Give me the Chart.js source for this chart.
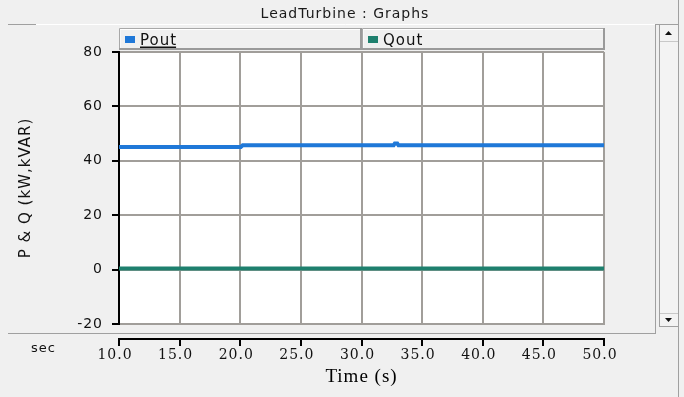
<!DOCTYPE html>
<html>
<head>
<meta charset="utf-8">
<title>LeadTurbine : Graphs</title>
<script src="https://cdn.jsdelivr.net/npm/chart.js@4/dist/chart.umd.min.js"></script>
<style>
  html, body { margin: 0; padding: 0; background: #f0f0f0; overflow: hidden; }
  canvas { display: block; }
</style>
</head>
<body>
<canvas id="graph" width="684" height="397"></canvas>
<script>
// Simulation trace of the lead turbine: active and reactive power vs time
const poutTime = [10.0, 20.05, 20.2, 32.65, 32.75, 32.95, 33.05, 50.0];
const poutValue = [45.1, 45.1, 45.7, 45.7, 46.4, 46.4, 45.7, 45.7];
const qoutTime = [10.0, 50.0];
const qoutValue = [0.4, 0.4];

const seriesNames = ['Pout', 'Qout'];
const seriesColors = ['#1f78d8', '#1e806e'];

const windowTitle = 'LeadTurbine : Graphs';
const yTitle = 'P & Q (kW,kVAR)';
const xTitle = 'Time (s)';
const xUnit = 'sec';
const xMin = 10, xMax = 50, xStep = 5;
const yMin = -20, yMax = 80, yStep = 20;

const toPoints = (xs, ys) => xs.map((x, i) => ({ x: x, y: ys[i] }));

const GRID = '#a19e9a';
const TEXT = '#111111';
const UI_FONT = '"DejaVu Sans", Verdana, sans-serif';

// Window chrome: title bar, legend buttons, scrollbar and the detached time axis
const chromePlugin = {
  id: 'chrome',
  beforeDraw(chart) {
    const ctx = chart.ctx;
    const a = chart.chartArea;
    ctx.save();
    ctx.fillStyle = '#f0f0f0';
    ctx.fillRect(0, 0, chart.width, chart.height);

    // title bar
    ctx.fillStyle = '#1a1a1a';
    ctx.font = '14px ' + UI_FONT;
    ctx.letterSpacing = '1px';
    ctx.textAlign = 'center';
    ctx.textBaseline = 'middle';
    ctx.fillText(windowTitle, 345, 14);

    // panel edges
    ctx.lineWidth = 1;
    ctx.strokeStyle = '#a0a0a0';
    ctx.beginPath(); ctx.moveTo(8, 24.5); ctx.lineTo(36, 24.5); ctx.stroke();
    ctx.strokeStyle = '#ffffff';
    ctx.beginPath(); ctx.moveTo(36, 24.5); ctx.lineTo(655, 24.5); ctx.stroke();
    ctx.strokeStyle = '#a0a0a0';
    ctx.beginPath(); ctx.moveTo(655.5, 24); ctx.lineTo(655.5, 334); ctx.stroke();
    ctx.beginPath(); ctx.moveTo(8, 333.5); ctx.lineTo(656, 333.5); ctx.stroke();
    ctx.beginPath(); ctx.moveTo(678.5, 0); ctx.lineTo(678.5, 397); ctx.stroke();
    ctx.beginPath(); ctx.moveTo(655, 24.5); ctx.lineTo(678, 24.5); ctx.stroke();

    // scrollbar
    ctx.fillStyle = '#f3f3f3';
    ctx.fillRect(659, 25, 19, 301);
    ctx.strokeStyle = '#a0a0a0';
    ctx.beginPath(); ctx.moveTo(659.5, 25); ctx.lineTo(659.5, 327); ctx.stroke();
    ctx.strokeStyle = '#c8c8c8';
    ctx.beginPath(); ctx.moveTo(660, 41.5); ctx.lineTo(678, 41.5); ctx.stroke();
    ctx.beginPath(); ctx.moveTo(660, 313.5); ctx.lineTo(678, 313.5); ctx.stroke();
    ctx.strokeStyle = '#a0a0a0';
    ctx.beginPath(); ctx.moveTo(659, 326.5); ctx.lineTo(679, 326.5); ctx.stroke();
    ctx.fillStyle = '#111';
    ctx.beginPath(); ctx.moveTo(665, 35); ctx.lineTo(672, 35); ctx.lineTo(668.5, 31); ctx.closePath(); ctx.fill();
    ctx.beginPath(); ctx.moveTo(665, 318); ctx.lineTo(672, 318); ctx.lineTo(668.5, 322); ctx.closePath(); ctx.fill();

    // legend buttons, one per dataset
    const datasets = chart.data.datasets;
    const btnW = (a.right - a.left) / datasets.length;
    datasets.forEach((ds, i) => {
      const bx = Math.round(a.left + i * btnW);
      const bw = Math.round(btnW);
      const by = 28, bh = 22;
      ctx.fillStyle = '#f0f0f0';
      ctx.fillRect(bx, by, bw, bh);
      ctx.strokeStyle = '#ffffff';
      ctx.beginPath(); ctx.moveTo(bx + 1, by + bh - 1); ctx.lineTo(bx + 1, by + 1.5); ctx.lineTo(bx + bw - 1, by + 1.5); ctx.stroke();
      ctx.strokeStyle = '#a8a8a8';
      ctx.beginPath(); ctx.moveTo(bx + 0.5, by + bh); ctx.lineTo(bx + 0.5, by + 0.5); ctx.lineTo(bx + bw, by + 0.5); ctx.stroke();
      ctx.strokeStyle = '#9a9a9a';
      ctx.lineWidth = 2;
      ctx.beginPath(); ctx.moveTo(bx, by + bh - 1); ctx.lineTo(bx + bw - 1, by + bh - 1); ctx.lineTo(bx + bw - 1, by); ctx.stroke();
      ctx.lineWidth = 1;
      ctx.fillStyle = ds.borderColor;
      ctx.fillRect(bx + 6, 36, 10, 7);
      ctx.fillStyle = TEXT;
      ctx.font = '15px ' + UI_FONT;
      ctx.textAlign = 'left';
      ctx.textBaseline = 'alphabetic';
      ctx.fillText(ds.label, bx + 21, 45);
      if (i === 0) {
        const w = ctx.measureText(ds.label).width;
        ctx.fillRect(bx + 21, 46.5, w - 1, 1.5);
      }
    });

    // plot background
    ctx.fillStyle = '#ffffff';
    ctx.fillRect(a.left, a.top, a.right - a.left, a.bottom - a.top);

    // unit label left of the time axis
    ctx.fillStyle = TEXT;
    ctx.font = '13px ' + UI_FONT;
    ctx.textAlign = 'left';
    ctx.textBaseline = 'alphabetic';
    ctx.fillText(xUnit, 31, 352);
    ctx.restore();

    // wider glyph spacing for all library-drawn text
    ctx.letterSpacing = '1px';
  },
  afterDraw(chart) {
    // detached time axis below the plot, positioned from the x scale
    const ctx = chart.ctx;
    const xs = chart.scales.x;
    const axisY = 339;
    ctx.save();
    ctx.strokeStyle = '#000';
    ctx.lineWidth = 2;
    ctx.beginPath();
    ctx.moveTo(xs.getPixelForValue(xMin) - 1, axisY);
    ctx.lineTo(xs.getPixelForValue(xMax) + 1, axisY);
    ctx.stroke();
    xs.ticks.forEach(t => {
      const px = Math.round(xs.getPixelForValue(t.value));
      ctx.beginPath();
      ctx.moveTo(px, axisY - 1);
      ctx.lineTo(px, axisY + 7);
      ctx.stroke();
    });
    ctx.restore();
    ctx.letterSpacing = '0px';
  }
};

new Chart(document.getElementById('graph'), {
  type: 'line',
  data: {
    datasets: [
      {
        label: seriesNames[0],
        data: toPoints(poutTime, poutValue),
        borderColor: seriesColors[0],
        backgroundColor: seriesColors[0],
        borderWidth: 4,
        pointRadius: 0,
        tension: 0,
        fill: false
      },
      {
        label: seriesNames[1],
        data: toPoints(qoutTime, qoutValue),
        borderColor: seriesColors[1],
        backgroundColor: seriesColors[1],
        borderWidth: 4,
        pointRadius: 0,
        tension: 0,
        fill: false
      }
    ]
  },
  options: {
    responsive: false,
    animation: false,
    devicePixelRatio: 1,
    layout: { padding: { left: 0, top: 52, right: 80, bottom: 0 } },
    plugins: {
      legend: { display: false },
      title: { display: false },
      tooltip: { enabled: false }
    },
    scales: {
      x: {
        type: 'linear',
        min: xMin,
        max: xMax,
        afterFit(scale) { scale.height = 73; },
        afterBuildTicks(scale) {
          const t = [];
          for (let v = xMin; v <= xMax; v += xStep) t.push({ value: v });
          scale.ticks = t;
        },
        grid: { color: GRID, lineWidth: 2, drawTicks: false },
        border: { color: GRID, width: 2 },
        ticks: {
          stepSize: xStep,
          padding: 23,
          labelOffset: -4,
          maxRotation: 0,
          autoSkip: false,
          color: TEXT,
          font: { family: '"DejaVu Serif", "Liberation Serif", serif', size: 14 },
          callback: v => Number(v).toFixed(1)
        },
        title: {
          display: true,
          text: xTitle,
          color: '#000',
          font: { family: '"Liberation Serif", "Times New Roman", serif', size: 19 },
          padding: { top: 0, bottom: 9 }
        }
      },
      y: {
        min: yMin,
        max: yMax,
        afterFit(scale) { scale.width = 119; },
        grid: { color: GRID, lineWidth: 2, tickColor: '#000', tickLength: 7, tickWidth: 2 },
        border: { color: '#000', width: 2 },
        ticks: {
          stepSize: yStep,
          padding: 9,
          color: TEXT,
          font: { family: UI_FONT, size: 14 }
        },
        title: {
          display: true,
          text: yTitle,
          color: TEXT,
          font: { family: UI_FONT, size: 15 },
          padding: { top: 17, bottom: 0 }
        }
      }
    }
  },
  plugins: [chromePlugin]
});
</script>
</body>
</html>
